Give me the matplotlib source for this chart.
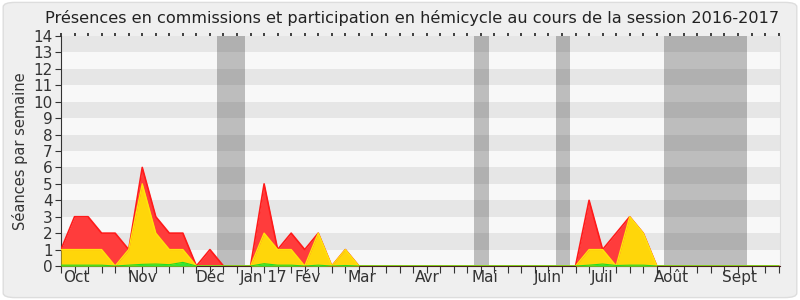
import matplotlib
matplotlib.use("Agg")
import matplotlib.pyplot as plt
import numpy as np
from matplotlib.patches import FancyBboxPatch

# Weekly values, week index 0 = start of October 2016
total = [1, 3, 3, 2, 2, 1, 6, 3, 2, 2, 0, 1, 0, 0, 0, 5, 1, 2, 1, 2, 0, 1, 0,
         0, 0, 0, 0, 0, 0, 0, 0, 0, 0, 0, 0, 0, 0, 0, 0, 4, 1, 2, 3, 2, 0,
         0, 0, 0, 0, 0, 0, 0, 0, 0]
commissions = [1, 1, 1, 1, 0, 1, 5, 2, 1, 1, 0, 0, 0, 0, 0, 2, 1, 1, 0, 2, 0, 1, 0,
               0, 0, 0, 0, 0, 0, 0, 0, 0, 0, 0, 0, 0, 0, 0, 0, 1, 1, 0, 3, 2, 0,
               0, 0, 0, 0, 0, 0, 0, 0, 0]
hemicycle = [0.05, 0.05, 0.05, 0.05, 0.0, 0.05, 0.1, 0.12, 0.08, 0.22, 0, 0, 0, 0, 0, 0.14, 0.05, 0.05, 0, 0.05, 0, 0.03, 0,
             0, 0, 0, 0, 0, 0, 0, 0, 0, 0, 0, 0, 0, 0, 0, 0, 0.05, 0.12, 0.03, 0.05, 0.05, 0,
             0, 0, 0, 0, 0, 0, 0, 0, 0]
weeks = np.arange(len(total))

month_labels = ["Oct", "Nov", "Déc", "Jan 17", "Fév", "Mar", "Avr", "Mai", "Juin", "Juil", "Août", "Sept"]
month_pos = [1.13, 6.02, 11.0, 14.97, 18.24, 22.19, 27.03, 31.28, 35.97, 39.99, 45.05, 50.11]
vacations = [(11.52, 13.59), (30.5, 31.6), (36.56, 37.6), (44.5, 50.67)]

fig = plt.figure(figsize=(8, 3), dpi=100)
fig.patch.set_facecolor("white")
bg = FancyBboxPatch((0.004, 0.008), 0.992, 0.984, boxstyle="round,pad=0,rounding_size=0.015",
                    transform=fig.transFigure, facecolor="#efefef", edgecolor="#dddddd", lw=1,
                    zorder=-10)
fig.patches.append(bg)

ax = fig.add_axes([61/800, 34/300, 719/800, 230/300])
ax.set_facecolor("#f8f8f8")
ax.set_xlim(0, 53.1)
ax.set_ylim(0, 14)

for k in range(14):
    if k % 2 == 1:
        ax.axhspan(k, k + 1, color="#e6e6e6", lw=0, zorder=0)

for a, b in vacations:
    ax.axvspan(a, b, color="#242424", alpha=0.28, lw=0, zorder=1)

ax.fill_between(weeks, total, color="#ff3c3c", lw=0, zorder=2)
ax.plot(weeks, total, color="#ff1a1a", lw=1.2, zorder=3)
ax.fill_between(weeks, commissions, color="#ffd60a", lw=0, zorder=4)
ax.plot(weeks, commissions, color="#ffe40a", lw=1.0, zorder=5)
ax.fill_between(weeks, hemicycle, color="#33e633", lw=0, zorder=6)
ax.plot(weeks, hemicycle, color="#22dd22", lw=0.8, zorder=7)

ax.set_yticks(range(0, 15))
ax.tick_params(axis="y", labelsize=11, colors="#333333", length=4, pad=2)
ax.xaxis.remove_overlapping_locs = False
ax.set_xticks(np.arange(0, 54))
ax.tick_params(axis="x", which="major", direction="out", length=5, labelbottom=False,
               color="#333333")
ax.set_xticks(month_pos, minor=True)
ax.set_xticklabels(month_labels, minor=True)
ax.tick_params(axis="x", which="minor", length=0, labelsize=11, colors="#333333", pad=3)

top = ax.secondary_xaxis("top")
top.set_xticks(np.arange(0, 54))
top.tick_params(direction="out", length=2, width=1.2, labeltop=False, color="#222222")
top.spines["top"].set_visible(False)

ax.spines["top"].set_visible(False)
ax.spines["right"].set_color("#dddddd")
ax.spines["left"].set_color("#333333")
ax.spines["bottom"].set_color("#4a2020")

ax.set_ylabel("Séances par semaine", fontsize=10.5, color="#333333", labelpad=4)
fig.text(412.5 / 800, 0.965, "Présences en commissions et participation en hémicycle au cours de la session 2016-2017",
         ha="center", va="top", fontsize=11.6, color="#222222")

fig.savefig("out.png", dpi=100, facecolor=fig.get_facecolor())
